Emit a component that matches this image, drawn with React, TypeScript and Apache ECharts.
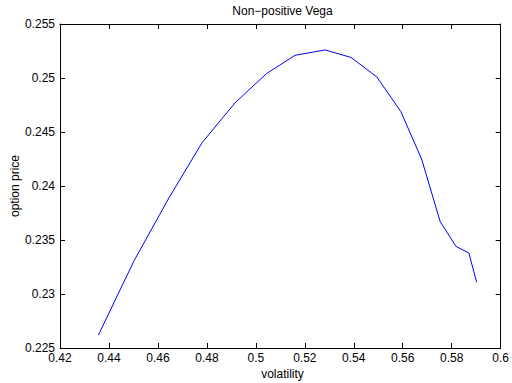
import React, { useEffect, useRef } from "react";
import * as echarts from "echarts";

const volatility = [
  0.4357, 0.4503, 0.4645, 0.478, 0.4915, 0.5043, 0.516, 0.5283,
  0.5389, 0.5494, 0.5592, 0.5677, 0.5753, 0.5818, 0.587, 0.5902,
];
const optionPrice = [
  0.2262, 0.2331, 0.2389, 0.244, 0.2477, 0.2504, 0.2521, 0.2526,
  0.2519, 0.2501, 0.2469, 0.2425, 0.2367, 0.2344, 0.2338, 0.2311,
];
const titleText = "Non\u2212positive Vega";
const xLabel = "volatility";
const yLabel = "option price";
const xRange = { min: 0.42, max: 0.6, interval: 0.02 };
const yRange = { min: 0.225, max: 0.255, interval: 0.005 };

const fmt = (v: number) => String(parseFloat(v.toFixed(4)));
const FONT = "'Liberation Sans', Arial, Helvetica, sans-serif";

export default function App() {
  const ref = useRef<HTMLDivElement>(null);
  useEffect(() => {
    if (!ref.current) return;
    const chart = echarts.init(ref.current, undefined, { renderer: "svg" });
    const gridL = 60, gridR = 7, gridT = 24, gridB = 35;
    const axisCommon = {
      axisLine: { show: true, lineStyle: { color: "#000", width: 1 } },
      axisTick: { show: true, inside: true, length: 5, lineStyle: { color: "#000", width: 1 } },
      splitLine: { show: false },
    };
    const mkX = (pos: "bottom" | "top", labels: boolean) => ({
      type: "value",
      position: pos,
      ...xRange,
      ...axisCommon,
      axisLabel: {
        show: labels,
        margin: 4,
        color: "#000",
        fontSize: 12,
        fontFamily: FONT,
        formatter: (v: number) => fmt(v),
        showMaxLabel: true,
        showMinLabel: true,
      },
    });
    const mkY = (pos: "left" | "right", labels: boolean) => ({
      type: "value",
      position: pos,
      ...yRange,
      ...axisCommon,
      axisLabel: {
        show: labels,
        margin: 5,
        color: "#000",
        fontSize: 12,
        fontFamily: FONT,
        formatter: (v: number) => fmt(v),
        showMaxLabel: true,
        showMinLabel: true,
      },
    });
    const plotCx = gridL + (512 - gridL - gridR) / 2;
    const plotCy = gridT + (383 - gridT - gridB) / 2;
    chart.setOption({
      animation: false,
      backgroundColor: "#fff",
      grid: { left: gridL, right: gridR, top: gridT, bottom: gridB, containLabel: false },
      xAxis: [mkX("bottom", true), mkX("top", false)],
      yAxis: [mkY("left", true), mkY("right", false)],
      series: [
        {
          type: "line",
          xAxisIndex: 0,
          yAxisIndex: 0,
          data: volatility.map((v, i) => [v, optionPrice[i]]),
          showSymbol: false,
          symbol: "none",
          lineStyle: { color: "#0000ff", width: 1 },
          itemStyle: { color: "#0000ff" },
        },
      ],
      graphic: [
        {
          type: "text",
          x: plotCx,
          y: 11,
          style: {
            text: titleText,
            fontSize: 12,
            fontFamily: FONT,
            fill: "#000",
            align: "center",
            verticalAlign: "middle",
          },
        },
        {
          type: "text",
          x: plotCx,
          y: 374,
          style: {
            text: xLabel,
            fontSize: 12,
            fontFamily: FONT,
            fill: "#000",
            align: "center",
            verticalAlign: "middle",
          },
        },
        {
          type: "text",
          x: 15,
          y: plotCy,
          rotation: Math.PI / 2,
          style: {
            text: yLabel,
            fontSize: 12,
            fontFamily: FONT,
            fill: "#000",
            align: "center",
            verticalAlign: "middle",
          },
        },
      ],
    });
    return () => chart.dispose();
  }, []);
  return <div ref={ref} style={{ width: 512, height: 383, position: "absolute", left: 0, top: 0 }} />;
}
